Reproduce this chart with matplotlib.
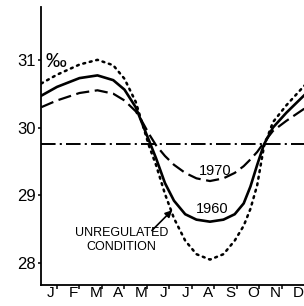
import matplotlib
matplotlib.use("Agg")
import matplotlib.pyplot as plt
from matplotlib import font_manager

# ---------------- data ----------------
months = [0.3, 1.0, 2.0, 2.8, 3.5, 4.0, 4.5, 4.8, 5.1, 5.4, 5.8, 6.2, 6.7,
          7.2, 7.8, 8.4, 8.9, 9.3, 9.6, 9.9, 10.2, 10.6, 11.2, 12.0]
sal_1960 = [30.47, 30.60, 30.73, 30.77, 30.70, 30.56, 30.30, 30.05, 29.80,
            29.55, 29.18, 28.92, 28.72, 28.64, 28.61, 28.64, 28.72, 28.88,
            29.13, 29.45, 29.75, 30.00, 30.22, 30.48]
sal_1970 = [30.30, 30.40, 30.51, 30.55, 30.50, 30.40, 30.24, 30.08, 29.90,
            29.74, 29.58, 29.45, 29.33, 29.25, 29.21, 29.25, 29.33, 29.43,
            29.53, 29.64, 29.78, 29.95, 30.10, 30.28]
sal_unreg = [30.65, 30.78, 30.93, 31.00, 30.92, 30.72, 30.38, 30.05, 29.72,
             29.45, 29.02, 28.66, 28.33, 28.13, 28.05, 28.13, 28.33, 28.55,
             28.80, 29.15, 29.72, 30.08, 30.33, 30.62]
ref_level = 29.76
month_labels = ["J", "F", "M", "A", "M", "J", "J", "A", "S", "O", "N", "D"]
y_ticks = [28, 29, 30, 31]

# ---------------- fonts ----------------
def pick(names):
    for n in names:
        try:
            font_manager.findfont(n, fallback_to_default=False)
            return n
        except Exception:
            pass
    return "DejaVu Sans"

FONT2 = pick(["Liberation Sans", "DejaVu Sans"])
plt.rcParams["font.family"] = [FONT2, "DejaVu Sans"]
plt.rcParams["lines.scale_dashes"] = False

fig = plt.figure(figsize=(3.04, 3.06), dpi=100)
ax = fig.add_axes([41 / 304, 1 - 285 / 306, 1 - 41 / 304, (285 - 7) / 306])

ax.plot(months, sal_unreg, color="black", lw=1.8, linestyle=(0, (1.4, 3.4)),
        solid_capstyle="round", dash_capstyle="round")
ax.plot(months, sal_1960, color="black", lw=1.9, linestyle="-")
ax.plot(months, sal_1970, color="black", lw=1.6, linestyle=(0, (9.5, 4.0)))
ax.axhline(ref_level, color="black", lw=1.4, linestyle=(0, (10.5, 3.0, 1.5, 3.0)))

ax.set_xlim(0.29, 11.98)
ax.set_ylim(27.675, 31.78)

for s in ["top", "right"]:
    ax.spines[s].set_visible(False)
for s in ["left", "bottom"]:
    ax.spines[s].set_linewidth(1.3)

ax.set_yticks(y_ticks)
ax.set_yticklabels([str(v) for v in y_ticks], fontsize=12, family=[FONT2])
ax.tick_params(axis="y", length=2.5, width=1.1, pad=1, direction="out")

ax.set_xticks(list(range(1, 12)))
ax.set_xticklabels([])
ax.tick_params(axis="x", which="major", length=3, width=1.1, direction="out")
ax.set_xticks([k + 0.72 for k in range(12)], minor=True)
ax.set_xticklabels(month_labels, minor=True, fontsize=11, family=[FONT2])
ax.tick_params(axis="x", which="minor", length=0, pad=1)

ax.text(0.47, 30.98, "\u2030", fontsize=15, ha="left", va="center", family=[FONT2])
ax.text(8.02, 29.36, "1970", fontsize=10.5, ha="center", va="center", family=[FONT2])
ax.text(7.9, 28.80, "1960", fontsize=10.5, ha="center", va="center", family=[FONT2])
ax.text(3.87, 28.34, "UNREGULATED\nCONDITION", fontsize=9, ha="center",
        va="center", linespacing=1.15, family=[FONT2])
ax.annotate("", xy=(6.12, 28.78), xytext=(5.22, 28.48),
            arrowprops=dict(arrowstyle="-|>", color="black", lw=1.2,
                            mutation_scale=10, shrinkA=0, shrinkB=0))

fig.savefig("out.png", dpi=100, facecolor="white")
